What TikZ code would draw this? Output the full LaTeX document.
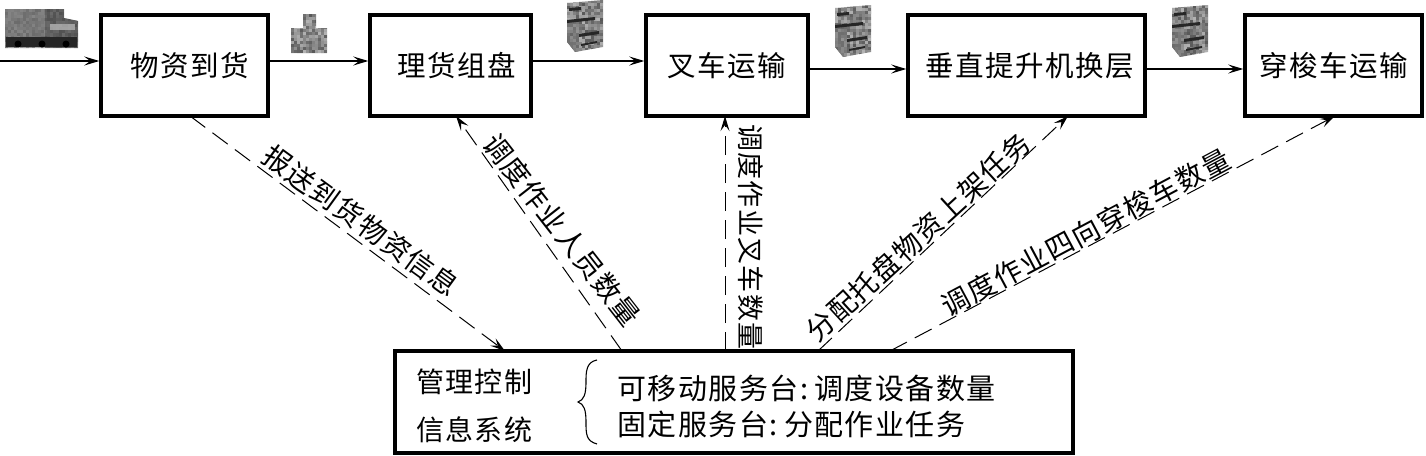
\documentclass[tikz,border=0pt]{standalone}
\usepackage{fontspec}
\setmainfont{Noto Sans CJK SC}[LetterSpace=5]
\usetikzlibrary{arrows.meta,calc}
\pgfmathsetseed{7}
% speckle of small grey cells over a region, for the scanned look of the icons
% arguments: x0, y0, x1, y1, second x, second y
\newcommand{\speckle}[6]{%
  \foreach \sx in {#1,#5,...,#3}{\foreach \sy in {#2,#6,...,#4}{%
    \pgfmathsetmacro{\sg}{int(30+random(0,35))}%
    \fill[black!\sg] (\sx,\sy) rectangle +(3.2,3.2);}}}
\tikzset{
  x=1pt,y=-1pt,
  procbox/.style={draw=black,line width=3.5pt,minimum height=101pt,inner sep=0pt,font=\fontsize{28.5}{32}\selectfont},
  flow/.style={draw=black,line width=1.2pt,-{Stealth[length=15pt,width=9pt,inset=6pt]}},
  info/.style={draw=black,line width=1pt,dash pattern=on 19pt off 9pt,-{Stealth[length=15pt,width=9pt,inset=6pt]}},
  lab/.style={font=\fontsize{28}{30}\selectfont,inner sep=0pt},
  txt/.style={font=\fontsize{28}{30}\selectfont,inner sep=0pt,anchor=west},
  gC/.style={fill=black!85,draw=none},
}
\begin{document}
\begin{tikzpicture}
\useasboundingbox (0,0) rectangle (1426,455);
\node[procbox,minimum width=167pt] (a) at (184.5,65.5) {\hspace{10pt}物资到货};
\node[procbox,minimum width=161pt] (b) at (450.5,65.5) {\hspace{12pt}理货组盘};
\node[procbox,minimum width=162pt] (c) at (727,65.5) {叉车运输\hspace{10pt}};
\node[procbox,minimum width=237pt] (d) at (1026.5,65.5) {\hspace{6pt}垂直提升机换层};
\node[procbox,minimum width=177pt] (e) at (1333.5,65.5) {穿梭车运输};
\node[draw=black,line width=3.5pt,minimum width=678pt,minimum height=102pt,inner sep=0pt] (m) at (734,402) {};
% horizontal flows
\coordinate (in) at (0,61);
\draw[flow] (in) -- (a.west|-in);
\draw[flow] (a.east|-in) -- (b.west|-in);
\draw[flow] (b.east|-in) -- (c.west|-in);
\coordinate (r2) at (0,69);
\draw[flow] (c.east|-r2) -- (d.west|-r2);
\draw[flow] (d.east|-r2) -- (e.west|-r2);
% dashed links
\coordinate (a1) at (190,116); \coordinate (m1) at (505,351);
\coordinate (m2) at (622,351); \coordinate (b2) at (456,116);
\coordinate (m3) at (725,351); \coordinate (c3) at (725,116);
\coordinate (m4) at (818,351); \coordinate (d4) at (1068,116);
\coordinate (m5) at (890,351); \coordinate (e5) at (1335,116);
\draw[info] (a1) -- (m1);
\draw[info] (m2) -- (b2);
\draw[info] (m3) -- (c3);
\draw[info] (m4) -- (d4);
\draw[info] (m5) -- (e5);
\node[lab,rotate=-36] (l1) at (361,221) {报送到货物资信息};
\node[lab,rotate=-52] (l2) at (562,230) {调度作业人员数量};
\node[lab,rotate=-90,font=\fontsize{27}{30}\selectfont] (l3) at (751,237) {调度作业叉车数量};
\node[lab,rotate=42.5] (l4) at (918,237) {分配托盘物资上架任务};
\node[lab,rotate=28] (l5) at (1086,232) {调度作业四向穿梭车数量};
% text in bottom box
\node[txt] (t1) at (416,382) {管理控制};
\node[txt] (t2) at (416,430) {信息系统};
\node[txt,font=\fontsize{29}{30}\selectfont] (t3) at (617,388) {可移动服务台\hspace{2pt}:\hspace{6pt}调度设备数量};
\node[txt,font=\fontsize{29}{30}\selectfont] (t4) at (617,424) {固定服务台\hspace{2pt}:\hspace{6pt}分配作业任务};
\draw[line width=1.1pt] (597,360) .. controls (586,362) and (586,372) .. (586,382) .. controls (586,394) and (584,400) .. (578,402) .. controls (584,404) and (586,410) .. (586,422) .. controls (586,434) and (586,441) .. (597,444);
% truck
\begin{scope}
  \clip (5,9) -- (64,9) -- (64,18) -- (78,21) -- (78,48) -- (5,48) -- cycle;
  \speckle{5}{9}{78}{48}{8}{12}
  \fill[black!55,opacity=.7] (5,9) rectangle (45,37);
  \fill[black!70,opacity=.7] (45,9) rectangle (78,48);
\end{scope}
\fill[black!30,opacity=.8] (50,24) rectangle (75,30);
\fill[gC] (6,37) rectangle (77,47);
\fill[black] (42,44) circle (3.5pt) (66,44) circle (3.5pt) (18,44) circle (3.5pt);
% small goods stack
\begin{scope}
  \clip (291,28) -- (303,28) -- (303,14) -- (316,14) -- (316,28) -- (327,28) -- (327,53) -- (291,53) -- cycle;
  \speckle{291}{14}{327}{53}{294}{17}
\end{scope}
% pallets
\foreach \px/\py in {567/0,835/5,1172/5}{
  \begin{scope}[shift={(\px,\py)}]
    \begin{scope}
      \clip (0,3) -- (36,0) -- (36,47) -- (8,52) -- (0,42) -- cycle;
      \speckle{0}{0}{36}{52}{3}{3}
      \fill[black!55,opacity=.5] (0,20) rectangle (12,52);
    \end{scope}
    \fill[gC] (0,20) -- (28,17) -- (28,20) -- (0,23) -- cycle;
    \fill[gC] (12,34) -- (32,31) -- (32,34) -- (12,37) -- cycle;
    \fill[gC] (2,8) -- (14,7) -- (14,10) -- (2,11) -- cycle;
    \fill[gC] (14,44) -- (30,41) -- (30,43) -- (14,46) -- cycle;
  \end{scope}
}
\end{tikzpicture}
\end{document}
